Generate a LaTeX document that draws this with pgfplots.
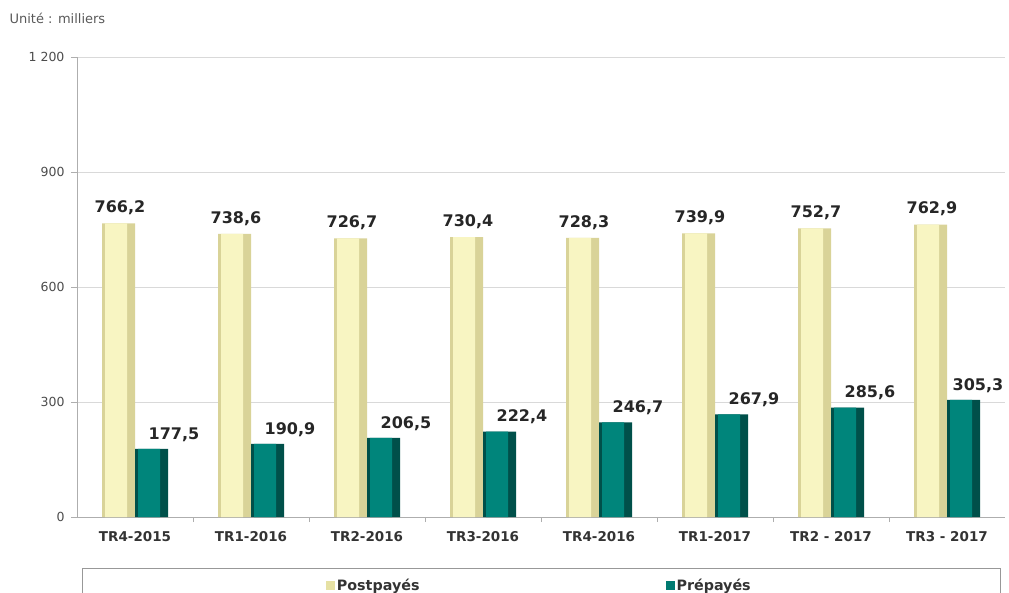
\documentclass[border=0pt]{standalone}
\usepackage{fontspec}
\setmainfont{DejaVu Sans}
\usepackage{pgfplots}
\pgfplotsset{compat=1.18}
\definecolor{postEdge}{HTML}{D9D398}
\definecolor{postHi}{HTML}{F8F5C2}
\definecolor{postLeg}{HTML}{E6E1A4}
\definecolor{preEdge}{HTML}{00504A}
\definecolor{preHi}{HTML}{00857B}
\definecolor{gridc}{HTML}{D9D9D9}
\definecolor{txt}{HTML}{333333}

\pgfplotstableread{
x post pre
0 766.2 177.5
1 738.6 190.9
2 726.7 206.5
3 730.4 222.4
4 728.3 246.7
5 739.9 267.9
6 752.7 285.6
7 762.9 305.3
}\datatable

\begin{document}
\begin{tikzpicture}[x=1pt,y=1pt]
\useasboundingbox (0,0) rectangle (1009,592);
\node[anchor=west,text=black!65,font=\fontsize{13}{15}\selectfont] at (6,574) {Unité : milliers};
\begin{axis}[
    at={(77pt,75pt)}, anchor=south west,
    scale only axis,
    width=928pt, height=460pt,
    ymin=0, ymax=1200,
    xmin=-0.5, xmax=7.5,
    axis x line*=bottom, axis y line*=left,
    axis line style={gridc!80!black, line width=0.8pt},
    ytick={0,300,600,900,1200},
    yticklabels={0,300,600,900,1 200},
    ymajorgrids, grid style={gridc, line width=0.8pt},
    tick align=outside,
    major tick length=6pt,
    minor tick length=5pt,
    ytick style={gridc!80!black, line width=0.8pt},
    major x tick style={draw=none},
    minor x tick style={gridc!80!black, line width=0.8pt},
    xtick=data,
    minor xtick={0.5,1.5,...,6.5},
    xticklabels={TR4-2015,TR1-2016,TR2-2016,TR3-2016,TR4-2016,TR1-2017,TR2 - 2017,TR3 - 2017},
    xticklabel style={font=\bfseries\fontsize{13.5}{15}\selectfont, text=txt, yshift=-5pt},
    yticklabel style={font=\fontsize{12.5}{14}\selectfont, text=black!70, xshift=-3pt},
    /pgf/number format/assume math mode=true,
    nodes near coords style={font=\bfseries\fontsize{16}{18}\selectfont, text=black!85},
    /pgf/number format/use comma,
    /pgf/number format/fixed,
    /pgf/number format/fixed zerofill,
    /pgf/number format/precision=1,
    legend style={draw=none, fill=none, inner sep=0pt,
        at={(0.268,-0.148)}, anchor=west,
        font=\bfseries\fontsize{14.3}{16}\selectfont, text=txt,
        legend columns=2,
        /tikz/every even column/.append style={column sep=244pt}},
    legend cell align=left,
    clip=false,
]
% Postpayés: base bar with darker edges, lighter highlight bar on top
\addplot[ybar, bar width=33pt, bar shift=-16.5pt, draw=none, fill=postEdge,
    nodes near coords,
    every node near coord/.append style={xshift=-15pt, yshift=5pt},
    legend image code/.code={\fill[postLeg] (0pt,-4.5pt) rectangle (9pt,4.5pt);}]
    table[x=x, y=post] {\datatable};
\addlegendentry{Postpayés}
% Prépayés (last label pulled in a little so it stays on the page)
\addplot[ybar, bar width=33pt, bar shift=16.5pt, draw=none, fill=preEdge,
    visualization depends on={x \as \xv},
    nodes near coords,
    every node near coord/.append style={xshift={ifthenelse(\xv>6.5,31,39)*1pt}, yshift=4pt},
    legend image code/.code={\fill[preHi!80!preEdge] (0pt,-4.5pt) rectangle (9pt,4.5pt);}]
    table[x=x, y=pre] {\datatable};
\addlegendentry{Prépayés}
% highlights
\addplot[ybar, bar width=22pt, bar shift=-19pt, draw=none, fill=postHi, forget plot]
    table[x=x, y=post] {\datatable};
\addplot[ybar, bar width=22pt, bar shift=14pt, draw=none, fill=preHi, forget plot]
    table[x=x, y=pre] {\datatable};
\end{axis}
\draw[gridc!70!black, line width=0.8pt] (82,24) rectangle (1000,-10);
\end{tikzpicture}
\end{document}
